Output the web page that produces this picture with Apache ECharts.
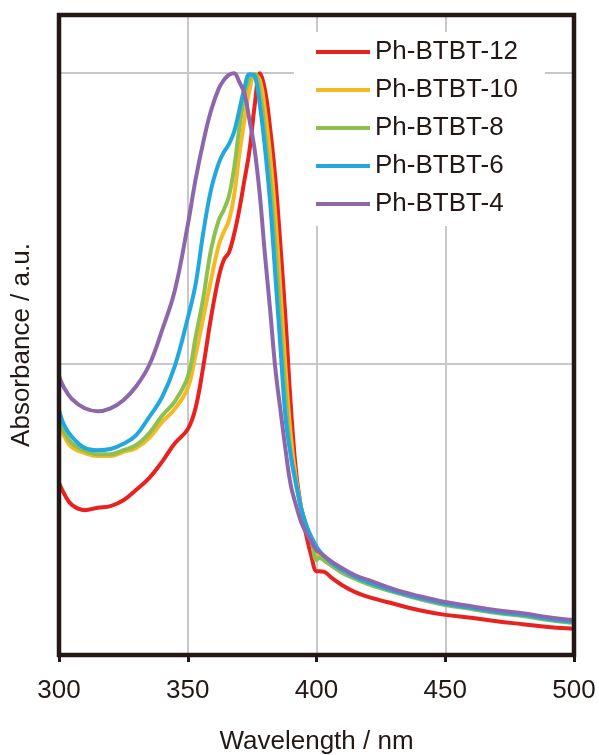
<!DOCTYPE html>
<html>
<head>
<meta charset="utf-8">
<script src="https://cdn.jsdelivr.net/npm/echarts@6/dist/echarts.min.js"></script>
<style>
html,body{margin:0;padding:0;background:#fff;}
#chart{width:599px;height:755px;}
</style>
</head>
<body>
<div id="chart"></div>
<script>
// Wavelengths (nm)
var wavelengths = [300,302,305,310,315,320,325,330,335,340,345,350,353,356,359,362,364,366,368,370,372,374,376,378,380,382,384,386,388,390,392,394,396,398,400,401,403,406,410,415,420,430,440,450,460,470,480,490,500];

var seriesNames = ['Ph-BTBT-12','Ph-BTBT-10','Ph-BTBT-8','Ph-BTBT-6','Ph-BTBT-4'];

var ph12 = [0.296,0.277,0.258,0.249,0.253,0.256,0.266,0.284,0.304,0.332,0.364,0.388,0.424,0.495,0.579,0.649,0.679,0.692,0.723,0.765,0.816,0.868,0.945,1.000,0.971,0.905,0.820,0.704,0.576,0.430,0.318,0.253,0.206,0.170,0.144,0.144,0.143,0.132,0.120,0.108,0.100,0.088,0.077,0.069,0.064,0.058,0.053,0.048,0.045];
var ph10 = [0.392,0.376,0.357,0.347,0.342,0.342,0.349,0.356,0.373,0.400,0.423,0.459,0.515,0.579,0.644,0.704,0.727,0.747,0.790,0.859,0.919,0.971,0.998,0.988,0.936,0.859,0.756,0.627,0.490,0.378,0.304,0.254,0.223,0.198,0.170,0.172,0.167,0.155,0.143,0.132,0.124,0.110,0.098,0.088,0.081,0.074,0.069,0.062,0.057];
var ph8 = [0.399,0.383,0.364,0.351,0.345,0.345,0.352,0.361,0.381,0.411,0.436,0.478,0.545,0.613,0.696,0.747,0.765,0.789,0.837,0.905,0.960,0.991,0.998,0.967,0.897,0.816,0.703,0.572,0.447,0.344,0.294,0.253,0.223,0.198,0.163,0.167,0.162,0.153,0.141,0.131,0.122,0.108,0.096,0.086,0.079,0.072,0.067,0.060,0.055];
var ph6 = [0.421,0.395,0.375,0.356,0.352,0.354,0.363,0.378,0.409,0.443,0.497,0.579,0.636,0.725,0.799,0.845,0.864,0.878,0.899,0.936,0.974,0.998,0.995,0.945,0.871,0.777,0.653,0.529,0.407,0.344,0.296,0.253,0.223,0.203,0.186,0.180,0.170,0.158,0.146,0.134,0.125,0.110,0.098,0.088,0.081,0.074,0.069,0.062,0.057];
var ph4 = [0.479,0.459,0.440,0.424,0.419,0.424,0.438,0.462,0.498,0.558,0.627,0.739,0.816,0.881,0.935,0.973,0.988,0.997,1.000,0.985,0.965,0.919,0.868,0.790,0.687,0.593,0.493,0.421,0.352,0.292,0.258,0.229,0.210,0.194,0.180,0.177,0.170,0.160,0.149,0.137,0.129,0.113,0.101,0.091,0.084,0.077,0.072,0.065,0.060];

var xTicks = [300,350,400,450,500];
var colors = ['#e8221f','#f5b923','#8cc152','#22a8de','#8d67ac'];

function pairs(arr){ return wavelengths.map(function(w,i){ return [w, arr[i]]; }); }
var allData = [ph12, ph10, ph8, ph6, ph4];

var ink = '#231815';
var fontFam = '"Liberation Sans", Arial, sans-serif';

var chart = echarts.init(document.getElementById('chart'), null, {renderer:'canvas'});
chart.setOption({
  animation: false,
  backgroundColor: '#ffffff',
  color: colors,
  grid: {
    left: 59, right: 25, top: 15, bottom: 100,
    outerBoundsMode: 'none', containLabel: false,
    show: true, borderColor: ink, borderWidth: 4.5,
    backgroundColor: 'transparent', z: 10
  },
  legend: {
    data: seriesNames,
    orient: 'vertical',
    left: 294, top: 32,
    backgroundColor: '#ffffff',
    padding: [6, 27, 8, 22],
    itemWidth: 54, itemHeight: 4,
    itemGap: 10,
    icon: 'rect',
    textStyle: { fontFamily: fontFam, fontSize: 26, color: ink, lineHeight: 28, padding: [0,0,0,0] },
    z: 5
  },
  xAxis: {
    type: 'value', min: xTicks[0], max: xTicks[xTicks.length-1], interval: 50,
    name: 'Wavelength / nm', nameLocation: 'middle', nameGap: 74,
    nameTextStyle: { fontFamily: fontFam, fontSize: 26, color: ink },
    axisLine: { show: false },
    axisTick: { show: true, inside: false, length: 7, lineStyle: { color: ink, width: 3 } },
    axisLabel: { margin: 23, fontFamily: fontFam, fontSize: 26, color: ink,
      customValues: xTicks },
    splitLine: { show: true, lineStyle: { color: '#c8c8c8', width: 2 } }
  },
  yAxis: {
    type: 'value', min: 0, max: 1.1, interval: 0.5,
    name: 'Absorbance / a.u.', nameLocation: 'middle', nameGap: 24,
    nameTextStyle: { fontFamily: fontFam, fontSize: 26, color: ink, padding: [0, 20, 0, 0] },
    axisLine: { show: false }, axisTick: { show: false }, axisLabel: { show: false },
    splitLine: { show: true, lineStyle: { color: '#c8c8c8', width: 2 } }
  },
  series: seriesNames.map(function(n, i){
    return {
      name: n, type: 'line', data: pairs(allData[i]),
      showSymbol: false, symbol: 'none', smooth: 0.4,
      lineStyle: { width: 4, color: colors[i] },
      itemStyle: { color: colors[i] },
      z: 2
    };
  })
});
</script>
</body>
</html>
